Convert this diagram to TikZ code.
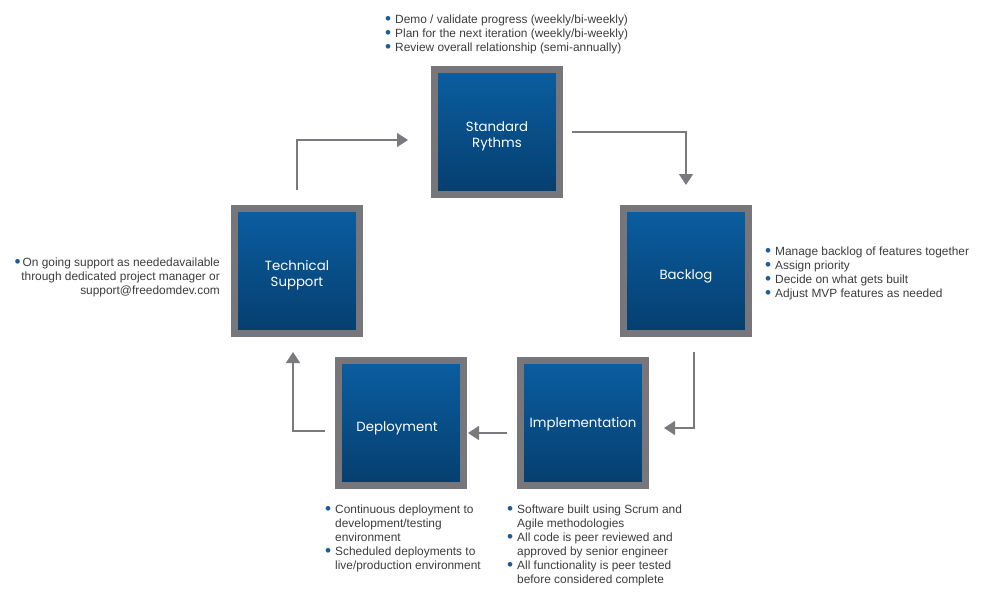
\documentclass[tikz,border=0pt]{standalone}
\usepackage{fontspec}
\setmainfont{Liberation Sans}
\newfontfamily\boxfont{Poppins}
\usepackage{xcolor}
\usetikzlibrary{arrows.meta}
\usetikzlibrary{positioning}
\definecolor{framegray}{HTML}{77767B}
\definecolor{arrowgray}{HTML}{7A797E}
\definecolor{boxlight}{HTML}{0B5EA1}
\definecolor{boxdark}{HTML}{053E6E}
\definecolor{txtgray}{HTML}{3C3C3C}
\definecolor{dotblue}{HTML}{1F5B96}
\newcommand{\dotmark}{\textcolor{dotblue}{\raisebox{-1pt}{\scalebox{1.45}{\textbullet}}}}
\newcommand{\blt}{\makebox[10pt][l]{\dotmark}}
\newcommand{\ind}{\hspace*{10pt}}

\begin{document}
\begin{tikzpicture}[x=1pt,y=-1pt,>={Triangle[width=14pt,length=11pt]},
  stage/.style={draw=framegray,line width=7pt,minimum size=125pt,shading angle=-45,
    top color=boxlight,bottom color=boxdark,inner sep=0pt},
  stagetext/.style={text=white,align=center,inner sep=0pt,yshift=-4pt,
    font=\boxfont\fontsize{13.3}{16}\selectfont},
  flow/.style={->,draw=arrowgray,line width=1.6pt},
  notes/.style={font=\fontsize{11.9}{14}\selectfont,text=txtgray,align=left,inner sep=0pt,anchor=north west}]

\useasboundingbox (0,0) rectangle (991,600);

%stages
\node[stage,label={[stagetext]center:Standard\\Rythms}] (std) at (497,132) {};
\node[stage,label={[stagetext,yshift=-1pt]center:Backlog}] (backlog) at (686,271) {};
\node[stage,label={[stagetext,yshift=3pt]center:Implementation}] (impl) at (583,423) {};
\node[stage,label={[stagetext,xshift=-4pt,yshift=-1pt]center:Deployment}] (deploy) at (401,423) {};
\node[stage,label={[stagetext]center:Technical\\Support}] (tech) at (297,271) {};

%notes
\node[notes] (stdnotes) at (385,15) {\blt Demo / validate progress (weekly/bi-weekly)\\
  \blt Plan for the next iteration (weekly/bi-weekly)\\
  \blt Review overall relationship (semi-annually)};
\node[notes] (backlognotes) at (765,247) {\blt Manage backlog of features together\\
  \blt Assign priority\\
  \blt Decide on what gets built\\
  \blt Adjust MVP features as needed};
\node[notes] (implnotes) at (507,505) {\blt Software built using Scrum and\\
  \ind Agile methodologies\\
  \blt All code is peer reviewed and\\
  \ind approved by senior engineer\\
  \blt All functionality is peer tested\\
  \ind before considered complete};
\node[notes] (deploynotes) at (325,505) {\blt Continuous deployment to\\
  \ind development/testing\\
  \ind environment\\
  \blt Scheduled deployments to\\
  \ind live/production environment};
\node[notes,anchor=north east,align=right] (technotes) at (220,258)
  {\dotmark\hspace{2pt}On going support as neededavailable\\
  through dedicated project manager or\\
  support@freedomdev.com};

%cycle
\draw[flow] ([yshift=15pt]tech.north) |- ([xshift=-23pt,yshift=-8pt]std.west);
\draw[flow] ([xshift=9pt]std.east) -| ([yshift=20pt]backlog.north);
\draw[flow] ([xshift=8pt,yshift=-15pt]backlog.south) |- ([xshift=15pt,yshift=-5pt]impl.east);
\draw[flow] ([xshift=-10pt,yshift=-10pt]impl.west) -- ([xshift=1pt,yshift=-10pt]deploy.east);
\draw[flow] ([xshift=-10pt,yshift=-8pt]deploy.west) -| ([xshift=-4pt,yshift=-15pt]tech.south);

\end{tikzpicture}
\end{document}
